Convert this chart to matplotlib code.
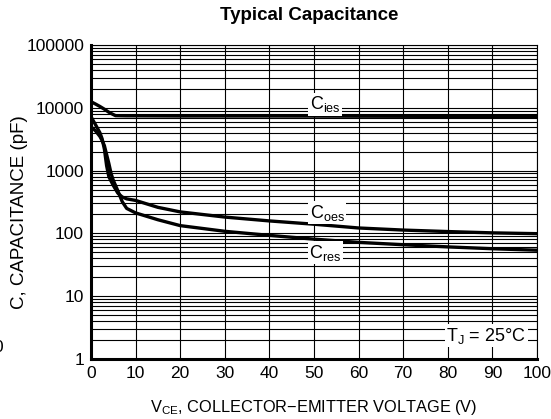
import numpy as np
import matplotlib
matplotlib.use('Agg')
import matplotlib.pyplot as plt
from matplotlib.ticker import FixedLocator, NullFormatter

plt.rcParams['font.family'] = ['Liberation Sans', 'DejaVu Sans']

# data (VCE in V, capacitance in pF)
v_cies = [0, 1, 2, 3, 4, 5, 5.5, 8, 10, 20, 40, 60, 80, 100]
c_cies = [12500, 11500, 10500, 9500, 8500, 7800, 7500, 7450, 7450, 7400, 7400, 7350, 7300, 7300]

v_coes = [0, 1, 2, 2.5, 3, 3.5, 4, 5, 6, 7, 8, 10, 15, 20, 30, 40, 50, 60, 70, 80, 90, 100]
c_coes = [7200, 5400, 4000, 3200, 2200, 1200, 800, 580, 440, 380, 355, 335, 260, 220, 182, 158, 140, 122, 113, 107, 102, 99]

v_cres = [0, 1, 2, 2.5, 3, 3.5, 4, 4.5, 5, 6, 7, 8, 10, 15, 20, 30, 40, 50, 60, 70, 80, 90, 100]
c_res = [5000, 4300, 3500, 3000, 2500, 1800, 1300, 900, 700, 480, 320, 250, 212, 165, 133, 108, 93, 81, 72, 66, 61, 57, 54]

x_ticks = [0, 10, 20, 30, 40, 50, 60, 70, 80, 90, 100]
y_ticks = [1, 10, 100, 1000, 10000, 100000]
y_ticklabels = ['1', '10', '100', '1000', '10000', '100000']

fig = plt.figure(figsize=(5.51, 4.19), dpi=100)
ax = fig.add_axes([91/551, 1-359/419, (537-91)/551, (359-45)/419])

ax.set_yscale('log')
ax.set_xlim(0, 100)
ax.set_ylim(1, 100000)

# grid
minor = [m * 10**e for e in range(0, 5) for m in range(2, 10)]
ax.yaxis.set_major_locator(FixedLocator(y_ticks))
ax.yaxis.set_minor_locator(FixedLocator(minor))
ax.yaxis.set_minor_formatter(NullFormatter())
ax.set_yticklabels(y_ticklabels)
ax.set_xticks(x_ticks)
ax.grid(True, which='both', axis='y', color='black', linewidth=0.8)
ax.grid(True, which='major', axis='x', color='black', linewidth=0.8)
ax.tick_params(which='both', length=0, labelsize=12.5, pad=5)

for s in ['left', 'bottom']:
    ax.spines[s].set_linewidth(2.2)
for s in ['top', 'right']:
    ax.spines[s].set_linewidth(0.8)

ax.plot(v_cies, c_cies, color='black', lw=2.4)
ax.plot(v_coes, c_coes, color='black', lw=2.4)
ax.plot(v_cres, c_res, color='black', lw=2.4)

box = dict(facecolor='white', edgecolor='none', pad=1.0)
ax.text(52.5, 11400, r'C$_{\mathregular{ies}}$', fontsize=13, ha='center', va='center', bbox=box)
ax.text(53, 215, r'C$_{\mathregular{oes}}$', fontsize=13, ha='center', va='center', bbox=box)
ax.text(52.5, 49, r'C$_{\mathregular{res}}$', fontsize=13, ha='center', va='center', bbox=box)
ax.text(88.6, 2.35, r'T$_{\mathregular{J}}$ = 25°C', fontsize=13, ha='center', va='center', bbox=box)

ax.set_xlabel(r'V$_{\mathregular{CE}}$, COLLECTOR−EMITTER VOLTAGE (V)', fontsize=11.8, labelpad=12)
ax.set_ylabel('C, CAPACITANCE (pF)', fontsize=13.5)
ax.yaxis.set_label_coords(-0.141, 0.468)
fig.text(309/551, 1-16/419, 'Typical Capacitance', fontsize=13.5, fontweight='bold', ha='center', va='center')

# clipped label at far left edge
fig.text(-7/551, 1-347/419, '0', fontsize=12.5, ha='left', va='center')

fig.savefig('out.png', dpi=100)
